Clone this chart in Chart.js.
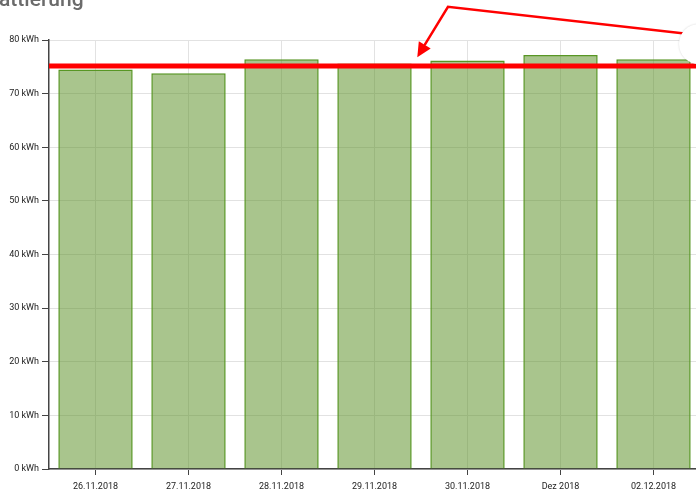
<!DOCTYPE html>
<html>
<head>
<meta charset="utf-8">
<script src="https://cdn.jsdelivr.net/npm/chart.js@4/dist/chart.umd.min.js"></script>
<style>
  html, body { margin: 0; padding: 0; background: #fff; overflow: hidden; width: 696px; height: 494px; }
  #wrap { position: relative; width: 700px; height: 494px; }
  #title { position: absolute; left: -1px; top: -13px; font: 500 21px Roboto, sans-serif; color: #6b6b6b; white-space: nowrap; }
  #dl { position: absolute; left: 679px; top: 24px; width: 40px; height: 40px; border-radius: 50%; background: #fff; box-shadow: 0 0 2px rgba(0,0,0,0.18); }
</style>
</head>
<body>
<div id="wrap">
  <canvas id="energyChart" width="700" height="494"></canvas>
  <div id="title">attlerung</div>
  <div id="dl"></div>
</div>
<script>
// categories + daily energy values (kWh)
const days = ['26.11.2018', '27.11.2018', '28.11.2018', '29.11.2018', '30.11.2018', 'Dez 2018', '02.12.2018'];
const energy = [74.5, 73.8, 76.4, 75.6, 76.2, 77.2, 76.4];
const avgLine = 75.15;
const yTicks = [0, 10, 20, 30, 40, 50, 60, 70, 80];

// hand drawn arrow, in (category index, kWh)
const arrowPts = [[6.5, 80.9], [3.79, 86.2], [3.46, 76.8]];

// red average line + arrow drawn on top
const markupPlugin = {
    id: 'markup',
    afterDraw(chart) {
        const { ctx, chartArea, scales } = chart;
        const x = scales.x, y = scales.y;
        ctx.save();
        ctx.strokeStyle = '#ff0000';
        ctx.fillStyle = '#ff0000';

        const ly = y.getPixelForValue(avgLine);
        ctx.lineWidth = 5;
        ctx.beginPath();
        ctx.moveTo(chartArea.left, ly);
        ctx.lineTo(chart.width, ly);
        ctx.stroke();

        const pts = arrowPts.map(p => [x.getPixelForValue(p[0]), y.getPixelForValue(p[1])]);
        const tip = pts[pts.length - 1];
        const prev = pts[pts.length - 2];
        const ang = Math.atan2(tip[1] - prev[1], tip[0] - prev[0]);
        const headLen = 16;
        const stopX = tip[0] - Math.cos(ang) * (headLen - 2);
        const stopY = tip[1] - Math.sin(ang) * (headLen - 2);

        ctx.lineWidth = 2.5;
        ctx.lineJoin = 'miter';
        ctx.beginPath();
        ctx.moveTo(pts[0][0], pts[0][1]);
        for (let i = 1; i < pts.length - 1; i++) ctx.lineTo(pts[i][0], pts[i][1]);
        ctx.lineTo(stopX, stopY);
        ctx.stroke();

        ctx.beginPath();
        ctx.moveTo(tip[0], tip[1]);
        ctx.lineTo(tip[0] - headLen * Math.cos(ang - 0.45), tip[1] - headLen * Math.sin(ang - 0.45));
        ctx.lineTo(tip[0] - headLen * Math.cos(ang + 0.45), tip[1] - headLen * Math.sin(ang + 0.45));
        ctx.closePath();
        ctx.fill();
        ctx.restore();
    }
};

const ctx = document.getElementById('energyChart').getContext('2d');
const energyChart = new Chart(ctx, {
    type: 'bar',
    data: {
        labels: days,
        datasets: [{
            label: 'Energie',
            data: energy,
            backgroundColor: 'rgba(83, 140, 28, 0.5)',
            borderColor: 'rgba(88, 150, 36, 1)',
            borderWidth: 1.5,
            borderSkipped: 'bottom',
            categoryPercentage: 1,
            barPercentage: 0.8
        }]
    },
    options: {
        responsive: false,
        animation: false,
        layout: { padding: { top: 40, left: 0, right: 0, bottom: 0 } },
        plugins: { legend: { display: false }, tooltip: { enabled: false } },
        scales: {
            x: {
                offset: true,
                grid: { offset: false, color: '#e2e2e2', tickLength: 6, tickColor: '#444' },
                border: { color: '#444', width: 1.5 },
                ticks: { color: '#222', font: { family: 'Roboto', size: 9 }, padding: 6, maxRotation: 0 },
                afterFit(s) { s.height = 25; }
            },
            y: {
                min: 0,
                max: 80,
                afterBuildTicks(s) { s.ticks = yTicks.map(v => ({ value: v })); },
                grid: { color: '#e2e2e2', tickLength: 7, tickColor: '#444' },
                border: { color: '#444', width: 1.5 },
                ticks: {
                    color: '#222',
                    font: { family: 'Roboto', size: 9 },
                    padding: 3,
                    callback: v => v + ' kWh'
                },
                afterFit(s) { s.width = 49; }
            }
        }
    },
    plugins: [markupPlugin]
});
</script>
</body>
</html>
